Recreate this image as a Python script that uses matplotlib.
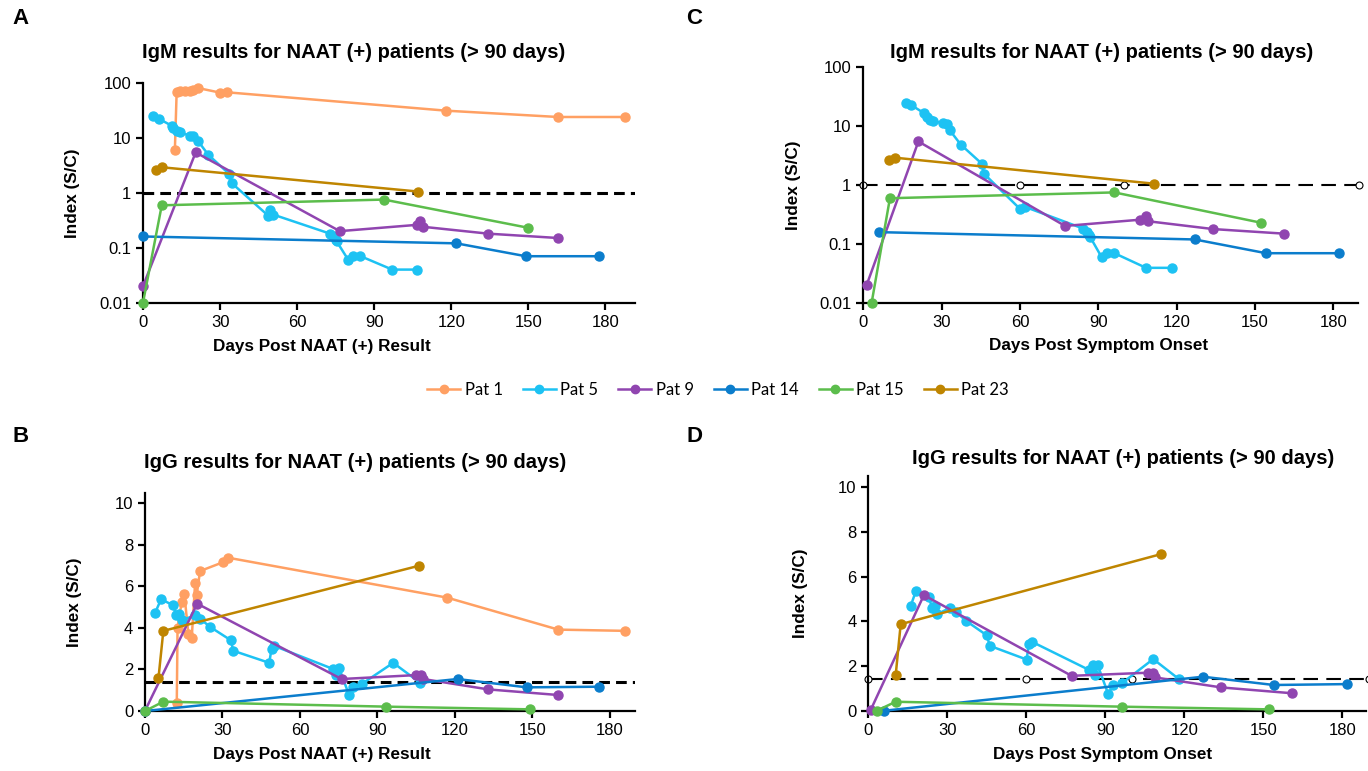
import matplotlib
matplotlib.use("Agg")
import matplotlib.pyplot as plt
from matplotlib.lines import Line2D

plt.rcParams['font.family'] = ['Liberation Sans', 'DejaVu Sans']

# patient names and colours
names = ["Pat 1", "Pat 5", "Pat 9", "Pat 14", "Pat 15", "Pat 23"]
colors = ["#FFA063", "#1DC2F3", "#9045B0", "#0B7DCC", "#5CBD4C", "#BF8500"]

# [A] IgM vs days post NAAT (+) result
a_p1_x = [12.4, 13.1, 14.4, 16.3, 18.3, 19.5, 21.4, 30.0, 32.6, 118, 161.5, 187.5]
a_p1_y = [5.9, 68, 70, 70, 72, 75, 80, 66, 67, 31, 23.8, 23.8]
a_p5_x = [4.0, 6.3, 11.2, 11.8, 13.1, 14.4, 18.3, 19.6, 21.5, 25.4, 33.5, 34.5, 48.8, 49.4,
          50.7, 72.8, 74.1, 75.0, 75.4, 79.9, 81.8, 84.4, 97, 106.7]
a_p5_y = [25, 21.9, 16.5, 15, 13, 12.5, 10.9, 10.6, 8.6, 4.9, 2.2, 1.5, 0.38, 0.48,
          0.40, 0.18, 0.165, 0.14, 0.13, 0.06, 0.071, 0.071, 0.04, 0.04]
a_p9_x = [0, 20.5, 76.6, 106.5, 107.8, 109, 134.4, 161.6]
a_p9_y = [0.02, 5.4, 0.2, 0.26, 0.30, 0.24, 0.18, 0.15]
a_p14_x = [0, 122, 149, 177.5]
a_p14_y = [0.16, 0.12, 0.07, 0.07]
a_p15_x = [0, 7.3, 93.8, 150]
a_p15_y = [0.01, 0.59, 0.75, 0.23]
a_p23_x = [5, 7.3, 107]
a_p23_y = [2.6, 2.9, 1.05]

# [C] IgM vs days post symptom onset (no Pat 1)
c_p5_x = [16.4, 18.1, 23.3, 24.3, 25.6, 26.8, 30.4, 32.0, 33.2, 37.3, 45.4, 46.2, 60.0, 62.0,
          84.3, 85.6, 86.3, 86.9, 91.3, 93.3, 96.2, 108.3, 118.4]
c_p5_y = [24.6, 22.7, 16.3, 14, 12.3, 12.0, 11, 10.5, 8.3, 4.8, 2.27, 1.54, 0.39, 0.42,
          0.18, 0.157, 0.14, 0.13, 0.059, 0.069, 0.069, 0.039, 0.039]
c_p9_x = [1.3, 21.1, 77.3, 106, 108.3, 109.2, 134, 161.2]
c_p9_y = [0.02, 5.4, 0.2, 0.255, 0.30, 0.24, 0.177, 0.148]
c_p14_x = [6.1, 127, 154.3, 182.4]
c_p14_y = [0.157, 0.118, 0.069, 0.069]
c_p15_x = [3.2, 10.2, 96.2, 152.3]
c_p15_y = [0.01, 0.59, 0.74, 0.227]
c_p23_x = [10, 12.1, 111.4]
c_p23_y = [2.6, 2.87, 1.04]

# [B] IgG vs days post NAAT (+) result
b_p1_x = [12.3, 12.6, 14.2, 15.2, 16.8, 18.1, 19.4, 20.0, 21.3, 30.3, 32.3, 117, 160, 186]
b_p1_y = [0.37, 4.0, 5.25, 5.65, 3.73, 3.54, 6.16, 5.57, 6.74, 7.17, 7.38, 5.46, 3.92, 3.86]
b_p5_x = [3.9, 6.2, 11.0, 12.0, 13.3, 14.2, 19.4, 21.3, 25.2, 33.2, 34.2, 48.1, 49.0, 49.9,
          72.9, 74.0, 75.2, 79.0, 80.6, 83.9, 96.1, 106.5]
b_p5_y = [4.72, 5.38, 5.09, 4.61, 4.69, 4.37, 4.61, 4.45, 4.05, 3.41, 2.9, 2.32, 3.01, 3.14,
          2.02, 1.73, 2.05, 0.77, 1.14, 1.30, 2.32, 1.36]
b_p9_x = [0, 20.2, 76.1, 105, 107, 107.7, 132.9, 160]
b_p9_y = [0.01, 5.17, 1.54, 1.73, 1.73, 1.54, 1.04, 0.77]
b_p14_x = [0, 121, 147.8, 175.9]
b_p14_y = [0.0, 1.54, 1.14, 1.17]
b_p15_x = [0, 7.1, 93.2, 149]
b_p15_y = [0.0, 0.45, 0.21, 0.08]
b_p23_x = [5.2, 7.1, 106.2]
b_p23_y = [1.57, 3.86, 7.0]

# [D] IgG vs days post symptom onset (no Pat 1)
d_p5_x = [16.1, 18.1, 23.1, 24.1, 25.3, 26.2, 31.0, 33.3, 37.1, 44.9, 46.2, 60.1, 61.0, 62.2,
          83.9, 85.4, 86.0, 87.1, 91.1, 93.0, 96.2, 108.2, 117.9]
d_p5_y = [4.69, 5.36, 5.09, 4.6, 4.67, 4.32, 4.6, 4.42, 4.02, 3.38, 2.9, 2.29, 2.98, 3.08,
          1.82, 2.04, 1.59, 2.04, 0.75, 1.15, 1.22, 2.31, 1.42]
d_p9_x = [0.9, 21.1, 77.2, 106.3, 108.2, 108.8, 134.1, 161]
d_p9_y = [0.03, 5.17, 1.56, 1.70, 1.70, 1.49, 1.04, 0.78]
d_p14_x = [6.1, 127.1, 154, 181.8]
d_p14_y = [0.0, 1.52, 1.15, 1.19]
d_p15_x = [3.2, 10.4, 96.2, 152.1]
d_p15_y = [0.0, 0.40, 0.18, 0.06]
d_p23_x = [10.4, 12.3, 111]
d_p23_y = [1.59, 3.87, 7.0]

# cut-off lines
igm_cut = 1.0
igg_cut = 1.4
cut_x_naat = [0, 192]
cut_x_onset = [0, 60, 100, 190]

W, H = 1368, 771
fig = plt.figure(figsize=(W / 100, H / 100), dpi=100)


def box(l, r, t, b):
    return [l / W, 1 - b / H, (r - l) / W, (b - t) / H]


def style(ax, xmax):
    for s in ["top", "right"]:
        ax.spines[s].set_visible(False)
    for s in ["left", "bottom"]:
        ax.spines[s].set_linewidth(1.6)
    ax.tick_params(axis="both", width=1.6, length=5, labelsize=12, direction="out")
    ax.set_xlim(0, xmax)
    ax.set_xticks([0, 30, 60, 90, 120, 150, 180])


def draw(ax, series):
    for (x, y), c in series:
        ax.plot(x, y, color=c, lw=1.8, marker="o", ms=6.5, clip_on=False, zorder=3)


axA = fig.add_axes(box(143, 635, 82.7, 302.7))
axC = fig.add_axes(box(863.3, 1358, 66.7, 302.7))
axB = fig.add_axes(box(145, 635, 493, 711))
axD = fig.add_axes(box(868.3, 1366, 476, 710.7))

# A
style(axA, 191.5)
axA.set_yscale("log")
axA.plot(cut_x_naat, [igm_cut, igm_cut], color="black", lw=2.2, ls=(0, (3.5, 2)), zorder=2)
draw(axA, [((a_p1_x, a_p1_y), colors[0]), ((a_p5_x, a_p5_y), colors[1]),
           ((a_p9_x, a_p9_y), colors[2]), ((a_p14_x, a_p14_y), colors[3]),
           ((a_p15_x, a_p15_y), colors[4]), ((a_p23_x, a_p23_y), colors[5])])

# C
style(axC, 189.5)
axC.set_yscale("log")
axC.plot(cut_x_onset, [igm_cut] * 4, color="black", lw=1.5, ls=(0, (7, 4)),
         marker="o", ms=5, mfc="white", mec="black", mew=0.8, clip_on=False, zorder=2)
draw(axC, [((c_p5_x, c_p5_y), colors[1]), ((c_p9_x, c_p9_y), colors[2]),
           ((c_p14_x, c_p14_y), colors[3]), ((c_p15_x, c_p15_y), colors[4]),
           ((c_p23_x, c_p23_y), colors[5])])

for ax in (axA, axC):
    ax.set_ylim(0.01, 100)
    ax.set_yticks([0.01, 0.1, 1, 10, 100])
    ax.set_yticklabels(["0.01", "0.1", "1", "10", "100"])
    ax.minorticks_off()

# B
style(axB, 189.7)
axB.plot(cut_x_naat, [igg_cut, igg_cut], color="black", lw=2.2, ls=(0, (3.5, 2)), zorder=2)
draw(axB, [((b_p1_x, b_p1_y), colors[0]), ((b_p5_x, b_p5_y), colors[1]),
           ((b_p9_x, b_p9_y), colors[2]), ((b_p14_x, b_p14_y), colors[3]),
           ((b_p15_x, b_p15_y), colors[4]), ((b_p23_x, b_p23_y), colors[5])])

# D
style(axD, 189)
axD.plot(cut_x_onset, [igg_cut] * 4, color="black", lw=1.5, ls=(0, (7, 4)),
         marker="o", ms=5, mfc="white", mec="black", mew=0.8, clip_on=False, zorder=2)
draw(axD, [((d_p5_x, d_p5_y), colors[1]), ((d_p9_x, d_p9_y), colors[2]),
           ((d_p14_x, d_p14_y), colors[3]), ((d_p15_x, d_p15_y), colors[4]),
           ((d_p23_x, d_p23_y), colors[5])])

for ax in (axB, axD):
    ax.set_ylim(0, 10.5)
    ax.set_yticks([0, 2, 4, 6, 8, 10])


def ftext(x, y, s, **kw):
    fig.text(x / W, 1 - y / H, s, **kw)


# panel letters
for lx, ly, s in [(12, 18, "A"), (686, 18, "C"), (12, 436, "B"), (686, 436, "D")]:
    ftext(lx, ly, s, fontsize=16, fontweight="bold", ha="left", va="center")

# titles
igm_title = "IgM results for NAAT (+) patients (> 90 days)"
igg_title = "IgG results for NAAT (+) patients (> 90 days)"
ftext(354, 53, igm_title, fontsize=14.5, fontweight="bold", ha="center", va="center")
ftext(1102, 52, igm_title, fontsize=14.5, fontweight="bold", ha="center", va="center")
ftext(355, 462, igg_title, fontsize=14.5, fontweight="bold", ha="center", va="center")
ftext(1123, 458, igg_title, fontsize=14.5, fontweight="bold", ha="center", va="center")

# axis labels
for yx, yy in [(72, 193), (793, 185), (75, 602), (801, 593)]:
    ftext(yx, yy, "Index (S/C)", fontsize=12.3, fontweight="bold", rotation=90,
          ha="center", va="center")
ftext(322, 347, "Days Post NAAT (+) Result", fontsize=12.3, fontweight="bold", ha="center", va="center")
ftext(1099, 346, "Days Post Symptom Onset", fontsize=12.3, fontweight="bold", ha="center", va="center")
ftext(322, 755, "Days Post NAAT (+) Result", fontsize=12.3, fontweight="bold", ha="center", va="center")
ftext(1103, 755, "Days Post Symptom Onset", fontsize=12.3, fontweight="bold", ha="center", va="center")

# legend
handles = [Line2D([0], [0], color=c, lw=1.8, marker="o", ms=6) for c in colors]
fig.legend(handles, names, loc="center", bbox_to_anchor=(718 / W, 1 - 390 / H), ncol=6,
           frameon=False, handlelength=2.0, columnspacing=1.2, handletextpad=0.25,
           prop={"family": "Lato", "size": 12})

fig.savefig("out.png", dpi=100)
